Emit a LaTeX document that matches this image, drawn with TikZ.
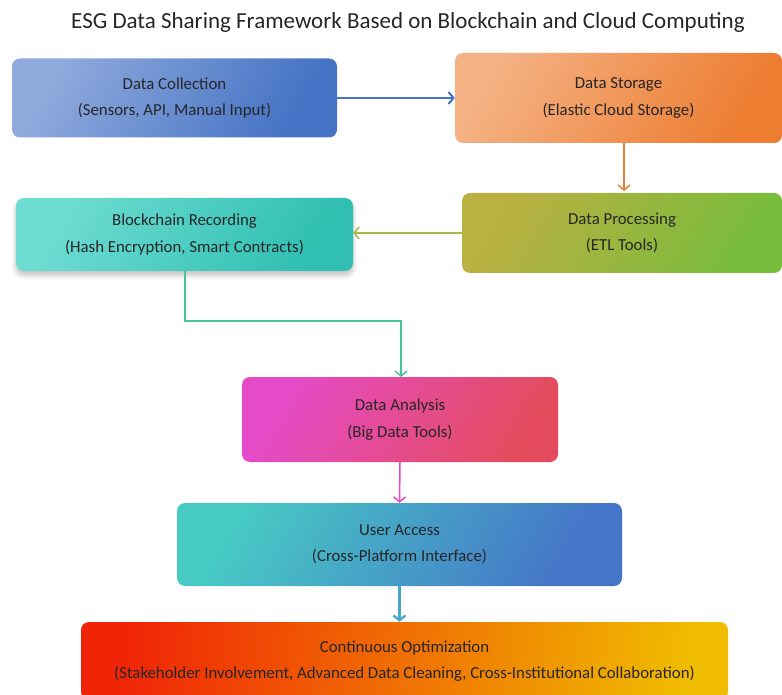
\documentclass[tikz,border=0pt]{standalone}
\usepackage{fontspec}
\setmainfont{Carlito}
\usetikzlibrary{arrows.meta,shadows.blur}

\definecolor{txt}{HTML}{262626}
\definecolor{dcA}{HTML}{8FAADC}\definecolor{dcB}{HTML}{4472C4}
\definecolor{dsA}{HTML}{F4B183}\definecolor{dsB}{HTML}{ED7D31}
\definecolor{dpA}{HTML}{BBB042}\definecolor{dpB}{HTML}{78BC3C}
\definecolor{brA}{HTML}{6EDCD2}\definecolor{brB}{HTML}{30BFB2}
\definecolor{daA}{HTML}{E54BC8}\definecolor{daB}{HTML}{E44C5E}
\definecolor{uaA}{HTML}{47CAC4}\definecolor{uaB}{HTML}{4575C8}
\definecolor{coA}{HTML}{F02406}\definecolor{coM}{HTML}{F08400}\definecolor{coB}{HTML}{F0BC00}
\definecolor{lnBlue}{HTML}{4472C4}
\definecolor{lnOrange}{HTML}{ED7D31}
\definecolor{lnOlive}{HTML}{A9B548}
\definecolor{lnGreen}{HTML}{45C49A}
\definecolor{lnPink}{HTML}{E54BC8}
\definecolor{lnTeal}{HTML}{46A8C8}

\tikzset{
  stage/.style={rounded corners=8pt, inner sep=0pt, align=center,
    font=\fontsize{16.8}{26.5}\selectfont, text=txt,
    execute at begin node={\rule{0pt}{17.5pt}}},
  grad/.style n args={2}{top color=#1, bottom color=#2, shading angle=60},
  flow/.style={-{Straight Barb[length=5pt,width=12pt]}, line width=1.5pt},
}

\begin{document}
\begin{tikzpicture}[x=1pt,y=-1pt]
\useasboundingbox (0,0) rectangle (782,695);

\node[font=\fontsize{23}{26}\selectfont, text=txt] (title) at (408,22)
  {ESG Data Sharing Framework Based on Blockchain and Cloud Computing};

\node[stage, grad={dcA}{dcB}, minimum width=325pt, minimum height=79pt] (dc) at (174.5,98)
  {Data Collection\\(Sensors, API, Manual Input)};
\node[stage, grad={dsA}{dsB}, minimum width=327pt, minimum height=90pt] (ds) at (618.5,98)
  {Data Storage\\(Elastic Cloud Storage)};
\node[stage, grad={dpA}{dpB}, minimum width=320pt, minimum height=80pt] (dp) at (622,233)
  {Data Processing\\(ETL Tools)};
\node[stage, grad={brA}{brB}, minimum width=337pt, minimum height=73pt,
  blur shadow={shadow xshift=0pt, shadow yshift=-4pt, shadow opacity=25,
  shadow blur radius=5pt, shadow blur steps=8}] (br) at (184.5,234.5)
  {Blockchain Recording\\(Hash Encryption, Smart Contracts)};
\node[stage, grad={daA}{daB}, minimum width=316pt, minimum height=85pt] (da) at (400,419.5)
  {Data Analysis\\(Big Data Tools)};
\node[stage, grad={uaA}{uaB}, minimum width=445pt, minimum height=83pt] (ua) at (399.5,544.5)
  {User Access\\(Cross-Platform Interface)};
\node[stage, left color=coA, middle color=coM, right color=coB, shading angle=80,
  minimum width=647pt, minimum height=78pt] (co) at (404.5,661)
  {Continuous Optimization\\(Stakeholder Involvement, Advanced Data Cleaning, Cross-Institutional Collaboration)};

\coordinate (bend1) at (185,321);
\coordinate (bend2) at (401,321);

\draw[flow, lnBlue, line width=2pt] (dc.east) -- (dc.east -| ds.west);
\draw[flow, lnOrange] (624,143) -- (624,191);
\draw[flow, lnOlive] (dp.west) -- (dp.west -| br.east);
\draw[flow, lnGreen] (185,271) -- (bend1) -- (bend2) -- (401,377);
\draw[flow, lnPink] (da.south) -- (ua.north);
\draw[flow, lnTeal, line width=2.2pt] (ua.south) -- (ua.south |- co.north);
\end{tikzpicture}
\end{document}
